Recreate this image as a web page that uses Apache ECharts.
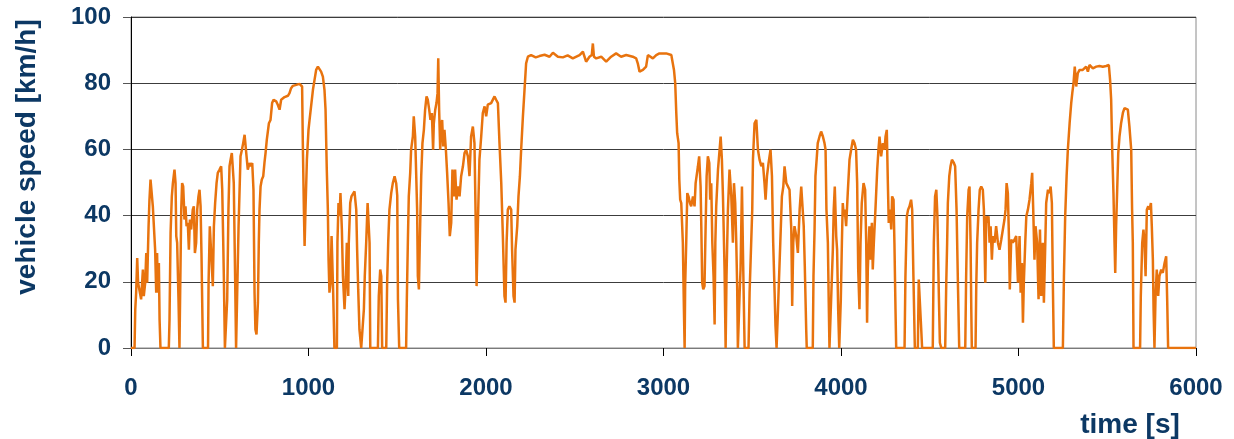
<!DOCTYPE html>
<html>
<head>
<meta charset="utf-8">
<script src="https://cdn.jsdelivr.net/npm/echarts@6/dist/echarts.min.js"></script>
<style>
html,body{margin:0;padding:0;background:#fff;}
#c{width:1234px;height:439px;}
</style>
</head>
<body>
<div id="c"></div>
<script>
// time [s]
const timeS = [
0,20,24,29,35,40,48,57,67,72,80,86,91,99,104,110,117,123,132,136,142,147,151,157,161,166,
213,217,223,230,236,245,251,255,260,268,273,278,283,288,294,298,301,307,313,320,326,332,339,348,354,360,367,373,380,386,392,397,405,
434,437,444,455,461,467,474,482,489,499,508,514,519,523,529,539,542,549,555,561,568,576,579,587,592,602,606,617,625,632,640,645,651,658,668,677,683,690,696,701,707,715,720,724,730,737,745,
752,758,765,777,786,795,803,818,827,837,846,856,865,874,884,893,902,912,931,949,959,964,968,974,978,983,991,1000,1006,1015,1025,1034,1043,1053,1062,1071,1081,1090,1096,1103,1109,1113,1118,1124,1130,1135,1139,1146,
1160,1163,1169,1175,1180,1188,1194,1203,1209,1216,1224,1227,1235,1242,1250,1259,1269,1274,1280,1287,1297,1306,1312,1317,1325,1333,1338,1344,1348,1391,1396,1404,1410,1415,1438,1443,1449,1456,1466,1475,1485,1494,1500,1504,1511,
1550,1554,1560,1565,1573,1578,1588,1593,1601,1607,1612,1616,1622,1627,1635,1642,1650,1657,1665,1672,1680,1687,1695,1702,1706,1714,1721,1727,1731,1736,1742,1747,1753,1759,1766,1774,1781,1789,1796,1804,1811,1819,1826,1834,1841,1851,1860,1870,1879,1888,1898,1907,1916,1926,1935,1941,1947,1954,1963,1973,1982,1992,2001,2010,2029,2048,2057,2067,2076,2086,2095,2104,2110,2116,2123,2132,2142,2147,2155,2161,2166,2176,2183,2191,2198,2208,2217,2226,2236,
2254,2280,2301,2330,2358,2377,2405,2433,2460,2489,2527,2546,2564,2583,2596,2602,2608,2621,2649,2677,2705,2733,2761,2790,2827,2846,2855,2865,2884,2902,2912,2940,2959,2977,3015,3025,3044,3053,
3059,3066,3072,3077,3085,3089,3094,3100,3109,3115,3119,3122,3128,3134,3141,3149,3156,3166,3175,3181,3188,3194,3201,3209,3213,3218,3224,3231,3237,3243,3250,3258,3263,3269,3275,3282,3288,3292,3297,3307,3316,3322,3329,3335,3344,3350,3355,3363,3372,3382,3391,3397,3404,3410,3415,3419,3429,3434,3442,3449,3457,3479,3485,3494,3500,3504,3513,3523,3532,3541,3551,3560,3569,3575,3583,3592,3603,3611,3618,3626,3631,3637,3645,3650,3658,3667,3675,3682,3692,3701,3710,3720,3725,3731,3738,3748,3757,3767,3776,3785,3790,3796,3804,3807,
3841,3845,3851,3856,3864,3869,3879,3888,3898,3907,3913,3918,3926,3931,3935,3946,3954,3959,3965,3973,3978,3984,3990,3995,3999,4005,4010,4016,4021,4029,4038,4048,4057,4067,4076,4085,4091,4097,4104,4110,4117,4127,4136,4142,4147,4151,4160,4166,4174,4179,4185,4194,4204,4211,4217,4226,4236,4245,4251,4258,4264,4269,4277,4283,4288,4296,4301,4307,4311,
4358,4363,4371,4378,4386,4395,4401,4408,4416,4433,4438,4446,4452,4457,4517,4523,4530,4537,4543,4551,4557,4565,4587,4593,4598,4602,4610,4617,4625,4636,4643,4651,4659,4666,4700,4705,4711,4719,4724,4730,4734,4737,4758,4762,4767,4775,4782,4790,4799,4805,4813,4818,4824,4831,4837,4843,4850,4856,4865,4874,4884,4893,4903,4912,4921,4927,4933,4940,4946,4951,4959,4968,4978,4987,4997,5006,5012,5019,5025,5030,5038,5044,5053,5062,5072,5077,5083,5090,5096,5105,5113,5121,5128,5137,5143,5151,5156,5166,5175,5181,5188,5194,5199,
5250,5256,5263,5271,5278,5288,5297,5303,5310,5317,5325,5334,5344,5362,5372,5381,5391,5400,5419,5438,5456,5475,5494,5509,5516,5522,5528,5535,5541,5545,5550,5556,5562,5569,5578,5588,5597,5607,5616,5625,5635,5640,5644,5648,5685,5689,5697,5704,5710,5716,5723,5731,5738,5746,5751,5757,5761,5766,5772,5779,5787,5794,5804,5813,5823,5832,5838,5843,6000
];
// vehicle speed [km/h]
const speedKmh = [
0,0,11.7,16.7,27.2,19.7,19.7,14.7,23.7,15.7,19.7,28.7,19.7,36.8,44.8,50.9,50.9,42.8,42.8,29.7,16.7,28.7,16.7,25.7,8.6,0,
0,8.6,34.8,45.8,49.8,53.9,49.8,33.8,31.8,13.7,0,0,41.8,49.8,48.8,43.8,38.8,42.8,36.8,37.8,29.7,38.8,35.8,41.8,42.8,28.7,31.8,41.8,45.8,47.8,42.8,28.7,0,
0,19.7,36.8,36.8,18.7,36.8,43.8,49.8,52.9,53.9,54.9,47.8,33.8,21.7,0,0,14.7,41.8,54.9,56.9,58.9,58.9,49.8,19.7,0,0,36.8,57.9,59.9,61.9,64.4,63.9,57.9,53.9,55.9,54.9,55.9,47.8,16.7,5.6,4.1,13.7,31.8,41.8,48.8,50.9,51.9,
56,58.9,62.9,67.9,68.9,74,75,74.5,73.5,72,75,75,75.8,75.8,76.2,77,78.5,79.2,79.5,79.8,80.2,79,61.9,41.8,30.8,41.8,56.9,65.9,68.9,68.9,78,81,84,85,85.5,83.5,82,78,72,53.9,41.8,26.7,16.7,19.7,33.8,33.8,16.7,0,
0,31.8,43.8,39.8,46.8,35.8,21.7,11.7,18.7,31.8,15.7,31.8,43.8,45.8,46.3,47.3,41.8,29.7,17.7,5.6,0,0,11.7,21.7,31.8,43.8,44.3,31.8,0,0,15.7,23.7,21.7,0,0,19.7,31.8,41.8,46.8,49.8,51.9,49.8,46,14.7,0,
0,14.7,32.8,45.8,52.9,59.9,63.9,70,63.9,51.9,41.8,21.7,17.7,31.8,51.9,61.9,65.9,72,76,75,72,68.9,71,59.9,67.9,72,74,77,87.5,72,59.9,66.9,68.9,60.9,65.9,59.9,52.9,43.8,33.8,37.8,53.9,45.8,53.9,44.8,48.8,45.8,51.9,54.9,58.9,59.9,57.9,51.9,63.9,66.9,61.9,41.8,18.7,36.8,56.9,63.9,71,73,70,73.5,74,76,75,74,61.9,49.8,33.8,15.7,13.7,31.8,41.8,42.8,41.8,29.7,15.7,13.7,29.7,36.8,45.8,51.9,59.9,70,78,86,88,
88.5,87.8,88.2,88.6,88,89.2,88,87.8,88.4,87.5,88.5,89.5,86.5,88,88.5,92,88,87.5,88,86.5,88,89,88,88.5,88,87.5,86,83.5,84,85,88.5,87.5,88.5,89,89,89,88.5,88,
84,80,71,64.9,61.9,50.9,44.8,43.8,31.8,11.7,0,18.7,31.8,46.8,45.8,43.8,42.8,45.8,42.8,49.8,49.8,54.9,57.9,48.8,36.8,19.7,17.7,18.7,35.8,51.9,57.9,55.9,44.8,49.8,31.8,21.7,7.1,31.8,42.8,53.9,59.9,63.9,56.9,45.8,23.7,0,21.7,41.8,53.9,45.8,31.8,49.8,43.8,31.8,18.7,0,16.7,23.7,48.8,24.7,0,0,16.7,31.8,41.8,56.9,67.9,68.9,59.9,56.9,54.9,55.9,49.8,44.8,51.9,55.9,59.9,51.9,31.8,16.7,6.6,0,11.7,19.7,31.8,45.8,48.8,54.9,49.8,49.8,47.8,35.8,12.7,31.8,36.8,33.8,28.7,41.8,48.8,48.8,36.8,24.7,5.6,0,
0,21.7,35.8,51.9,57.9,61.9,63.9,65.4,63.9,61.9,59.9,41.8,31.8,13.7,0,0,29.7,41.8,48.8,33.8,29.7,11.7,0,0,14.7,31.8,43.8,39.8,41.8,36.8,46.8,56.9,59.9,62.9,61.9,59.9,49.8,23.7,11.7,31.8,43.8,49.8,47.8,31.8,7.6,23.7,36.8,26.7,37.8,23.7,31.8,41.8,53.9,59.9,63.9,57.9,61.9,59.9,63.9,65.9,49.8,37.8,41.8,35.8,45.8,44.8,31.8,11.7,0,
0,21.7,39.8,41.8,42.8,44.8,41.8,21.7,0,0,20.7,20.7,5.6,0,0,31.8,45.8,47.8,40,16.7,1.6,0,0,19.7,31.8,43.8,51.9,54.9,56.9,55.9,54.9,41.8,18.7,0,0,21.7,39.8,47.8,48.8,31.8,11.7,0,0,18.7,31.8,41.8,47.8,48.8,47.8,41.8,19.7,39.8,37.8,39.8,31.8,36.8,26.7,33.8,31.8,36.8,31.8,29.7,32.8,35.8,38.8,41.8,49.8,46.8,33.8,17.7,32.8,31.8,32.8,33.8,19.7,33.8,16.7,25.7,7.6,19.7,31.8,39.8,41.8,44.8,49.8,52.9,41.8,26.7,36.8,31.8,14.7,35.8,15.7,31.8,13.7,31.8,43.8,47.8,46.8,48.8,43.8,17.7,0,
0,21.7,39.8,51.9,59.9,67.9,74,77,80,85,79,83,84,84,84.5,85,83.5,85.5,84.5,85,85.2,85,85.2,85.5,81,75,59.9,46.8,31.8,22.7,36.8,47.8,58.9,63.9,67.9,71,72.5,72.5,72,66.9,59.9,41.8,31.8,0,0,15.7,31.8,35.8,31.8,21.7,41.8,42.8,41.8,43.8,36.8,26.7,11.7,0,15.7,23.7,15.7,21.7,23.7,22.7,25.7,27.7,13.7,0,0
];
const xTicks = [0, 1000, 2000, 3000, 4000, 5000, 6000];
const yTicks = [0, 20, 40, 60, 80, 100];

const textColor = '#0c3864';
const fontFam = '"Liberation Sans", Arial, sans-serif';
const seriesData = timeS.map((t, i) => [t, speedKmh[i]]);

const chart = echarts.init(document.getElementById('c'));
chart.setOption({
  animation: false,
  backgroundColor: '#ffffff',
  grid: {
    left: 131, right: 38, top: 17, bottom: 91,
    show: true, borderColor: '#8a8a8a', borderWidth: 1, backgroundColor: 'transparent'
  },
  xAxis: {
    type: 'value',
    min: xTicks[0], max: xTicks[xTicks.length - 1], interval: xTicks[1] - xTicks[0],
    axisLine: { show: true, lineStyle: { color: '#7a7a7a', width: 1 } },
    axisTick: { show: true, length: 8, lineStyle: { color: '#000' } },
    axisLabel: { margin: 28, fontSize: 24, fontWeight: 'bold', color: textColor, fontFamily: fontFam,
      formatter: (v) => String(v) },
    splitLine: { show: false }
  },
  yAxis: {
    type: 'value',
    min: yTicks[0], max: yTicks[yTicks.length - 1], interval: yTicks[1] - yTicks[0],
    axisLine: { show: true, onZero: false, lineStyle: { color: '#000', width: 1 } },
    axisTick: { show: true, length: 8, lineStyle: { color: '#555' } },
    axisLabel: { margin: 20, fontSize: 24, fontWeight: 'bold', color: textColor, fontFamily: fontFam,
      formatter: (v) => String(v) },
    splitLine: { show: true, lineStyle: { color: '#3c3c3c', width: 1 } }
  },
  graphic: [
    {
      type: 'text', x: 27, y: 157, rotation: Math.PI / 2,
      style: { text: 'vehicle speed [km/h]', font: 'bold 28px ' + fontFam, fill: textColor, align: 'center', verticalAlign: 'middle' }
    },
    {
      type: 'text', x: 1130, y: 425,
      style: { text: 'time [s]', font: 'bold 28px ' + fontFam, fill: textColor, align: 'center', verticalAlign: 'middle' }
    }
  ],
  series: [{
    type: 'line',
    data: seriesData,
    showSymbol: false,
    symbol: 'none',
    lineStyle: { color: '#e8730e', width: 2.5 },
    clip: true
  }]
});
</script>
</body>
</html>
